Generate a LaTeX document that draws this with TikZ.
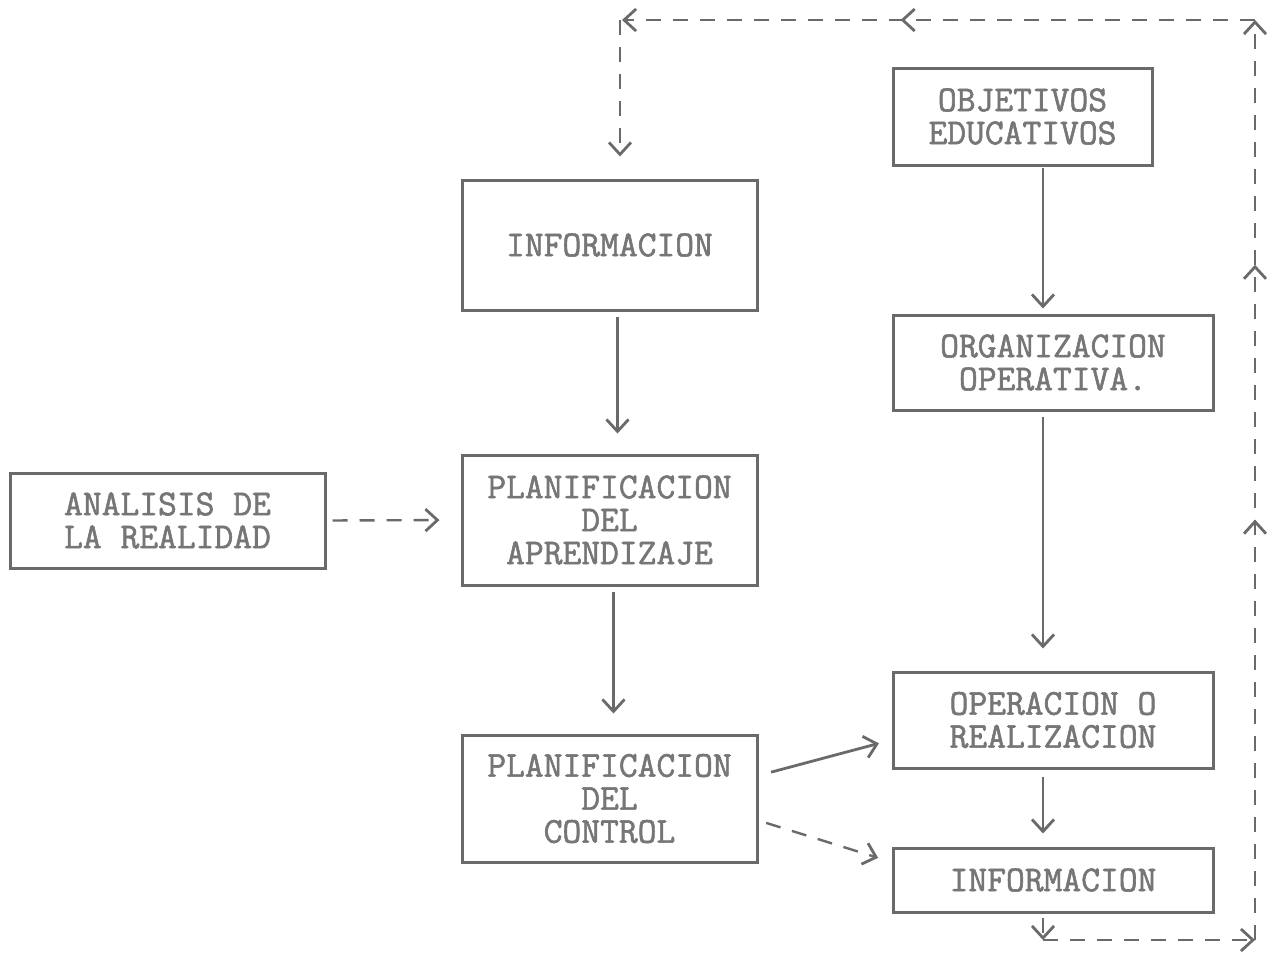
\documentclass[tikz,border=0pt]{standalone}
\usepackage{fontspec}
\newfontfamily\maquina[FakeBold=1.6]{Latin Modern Mono}
\usepackage{tikz}
\usetikzlibrary{arrows.meta,decorations.markings}

\definecolor{linea}{HTML}{6A6A6A}
\definecolor{texto}{HTML}{767676}

\tikzset{
  caja/.style={draw=linea, line width=3pt, inner sep=0pt, align=center,
    text=texto, font=\maquina\fontsize{36.5}{33}\selectfont},
  punta/.tip={Straight Barb[length=12pt,width=22pt,line width=2.8pt]},
  flecha/.style={draw=linea, line width=2.8pt, -punta},
  rayas/.style={draw=linea, line width=2.4pt, dash pattern=on 15pt off 12pt},
  midflecha/.style={postaction={decorate, decoration={markings,
    mark=at position #1 with {\arrow{punta}}}}}
}

\begin{document}
\begin{tikzpicture}[x=1pt,y=-1pt]
      \fill[white] (0,0) rectangle (1277,954);
      \useasboundingbox (0,0) rectangle (1277,954);

      \node[caja, minimum width=315pt, minimum height=95pt] (analisis) at (167.5,520.5) {ANALISIS DE\\LA REALIDAD};
      \node[caja, minimum width=295pt, minimum height=130pt] (info) at (609.5,245) {INFORMACION};
      \node[caja, minimum width=295pt, minimum height=130pt] (planapr) at (609.5,520) {PLANIFICACION\\DEL\\APRENDIZAJE};
      \node[caja, minimum width=295pt, minimum height=127pt] (plancon) at (609.5,798.5) {PLANIFICACION\\DEL\\CONTROL};
      \node[caja, minimum width=259pt, minimum height=97pt] (objetivos) at (1022.5,116.5) {OBJETIVOS\\EDUCATIVOS};
      \node[caja, minimum width=320pt, minimum height=95pt] (organiza) at (1053,362.5) {ORGANIZACION\\OPERATIVA.};
      \node[caja, minimum width=320pt, minimum height=96pt] (opera) at (1053,720) {OPERACION O\\REALIZACION};
      \node[caja, minimum width=320pt, minimum height=64pt] (info2) at (1053,880) {INFORMACION};

      \coordinate (br) at (1255,940);
      \coordinate (tr) at (1255,20);
      \coordinate (tl) at (620,20);

      % columna izquierda
      \draw[flecha, shorten <=5pt, shorten >=20pt] ([xshift=8pt]info.south) -- ([xshift=8pt]planapr.north);
      \draw[flecha, shorten <=5pt, shorten >=20pt] ([xshift=4pt]planapr.south) -- ([xshift=4pt]plancon.north);
      \draw[flecha, rayas, shorten <=6pt, shorten >=21pt] (analisis.east) -- (planapr.west);

      % columna derecha
      \draw[flecha, shorten <=1pt, shorten >=5pt] ([xshift=-10pt]organiza.north |- objetivos.south) -- ([xshift=-10pt]organiza.north);
      \draw[flecha, shorten <=5pt, shorten >=22pt] ([xshift=-10pt]organiza.south) -- ([xshift=-10pt]opera.north);
      \draw[flecha, shorten <=7pt, shorten >=13pt] ([xshift=-10pt]opera.south) -- ([xshift=-10pt]info2.north);

      \draw[flecha, shorten <=13pt, shorten >=13pt] ([yshift=23pt]plancon.east) -- ([yshift=-20pt]opera.west);
      \draw[flecha, rayas, shorten <=8pt, shorten >=14pt] ([yshift=-22pt]plancon.east) -- ([yshift=18pt]info2.west);

      % lazo de retroalimentacion
      \draw[rayas, -punta, shorten <=4pt] ([xshift=-10pt]info2.south) -- ([xshift=-10pt]info2.south |- br);
      \draw[rayas, -punta] ([xshift=-10pt]info2.south |- br) -- (br);
      \draw[rayas, -punta, midflecha=0.457, midflecha=0.734] (br) -- (tr);
      \draw[rayas, -punta, midflecha=0.567, shorten >=-8pt] (tr) -- ([xshift=10pt]tl);
      \draw[rayas, -punta, shorten >=22pt] (tl) -- ([xshift=10.5pt]info.north);
\end{tikzpicture}
\end{document}
